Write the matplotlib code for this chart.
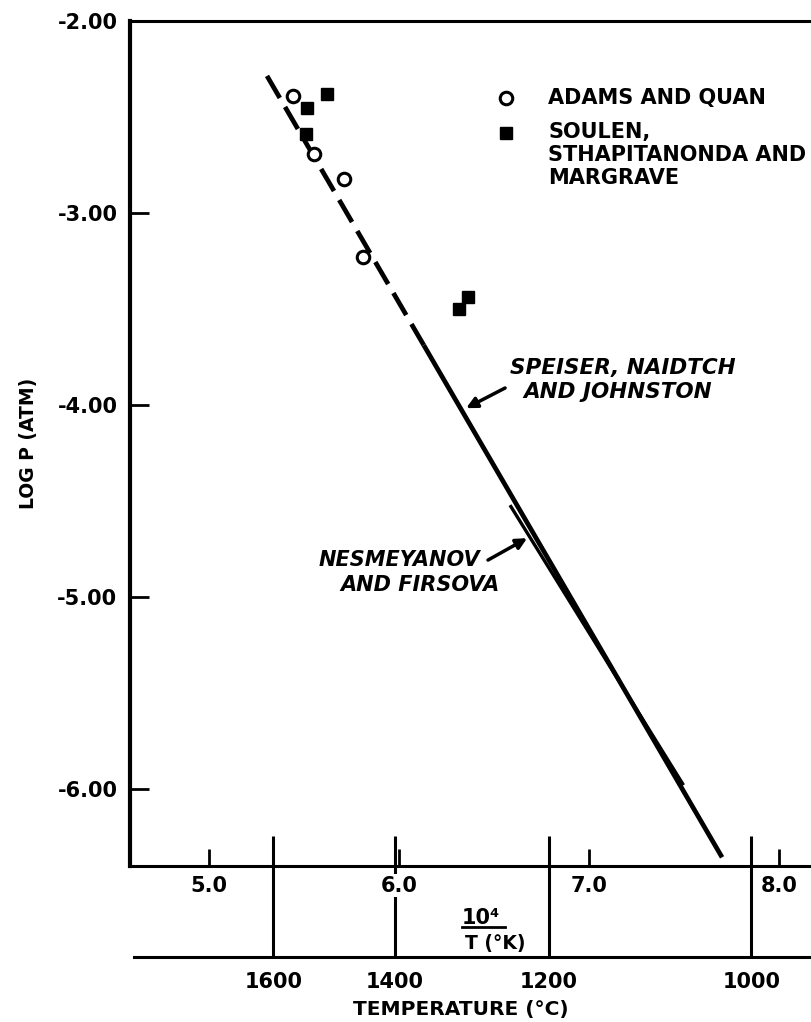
import matplotlib.pyplot as plt
import matplotlib.transforms as mtransforms

plt.rcParams['font.family'] = ['DejaVu Sans']
plt.rcParams['font.weight'] = 'bold'

# Adams and Quan (open circles)
adams_x = [5.440, 5.553, 5.711, 5.812]
adams_y = [-2.391, -2.693, -2.825, -3.231]

# Soulen, Sthapitanonda and Margrave (filled squares)
soulen_x = [5.623, 5.518, 5.511, 6.365, 6.318]
soulen_y = [-2.382, -2.455, -2.589, -3.436, -3.502]

# Speiser, Naidtch and Johnston: dashed extrapolation, then measured range
speiser_x = [5.305, 6.13, 7.700]
speiser_y = [-2.286, -3.688, -6.355]

# Nesmeyanov and Firsova
nesm_x = [6.584, 7.497]
nesm_y = [-4.521, -5.979]

y_ticks = [-2.0, -3.0, -4.0, -5.0, -6.0]
inv_t_ticks = [5.0, 6.0, 7.0, 8.0]
celsius_ticks = [1600, 1400, 1200, 1000]

fig = plt.figure(figsize=(8.11, 10.22), dpi=100)
ax = fig.add_axes([130 / 811, 156 / 1022, 681 / 811, 845 / 1022])
ax.set_xlim(4.584, 8.168)
ax.set_ylim(-6.40, -2.0)

ax.spines['left'].set_linewidth(3.0)
for s in ['top', 'bottom']:
    ax.spines[s].set_linewidth(2.2)
ax.spines['right'].set_visible(False)

ax.set_yticks(y_ticks)
ax.set_yticklabels([f"{v:.2f}" for v in y_ticks], fontsize=15, fontweight='bold')
ax.set_xticks(inv_t_ticks)
ax.set_xticklabels([f"{v:.1f}" for v in inv_t_ticks], fontsize=15, fontweight='bold')
for lab in ax.get_xticklabels():
    lab.set_bbox(dict(facecolor='white', edgecolor='none', pad=1))
ax.tick_params(axis='y', direction='in', length=14, width=2, pad=9)
ax.tick_params(axis='x', direction='in', length=12, width=2, pad=7)

# curves
ax.plot(speiser_x[:2], speiser_y[:2], color='black', lw=3.4,
        linestyle=(0, (5.4, 2.2)))
ax.plot(speiser_x[1:], speiser_y[1:], color='black', lw=3.4,
        solid_capstyle='butt')
ax.plot(nesm_x, nesm_y, color='black', lw=2.4, solid_capstyle='butt')

# data points
ax.plot(adams_x, adams_y, 'o', ms=9, mfc='white', mec='black', mew=2.2,
        zorder=5)
ax.plot(soulen_x, soulen_y, 's', ms=9, color='black', zorder=5)

# legend drawn by hand
ax.plot([6.563], [-2.401], 'o', ms=9, mfc='white', mec='black', mew=2.2)
ax.plot([6.563], [-2.583], 's', ms=9, color='black')
ax.text(6.784, -2.401, "ADAMS AND QUAN", fontsize=15, va='center')
ax.text(6.784, -2.583, "SOULEN,\nSTHAPITANONDA AND\nMARGRAVE", fontsize=15,
        va='top', linespacing=1.2,
        transform=ax.transData + mtransforms.ScaledTranslation(0, 11 / 100, fig.dpi_scale_trans))

# curve labels
ax.text(6.584, -3.807, "SPEISER, NAIDTCH", fontsize=15.5, style='italic',
        va='center')
ax.text(6.653, -3.932, "AND JOHNSTON", fontsize=15.5, style='italic',
        va='center')
ax.annotate("", xy=(6.353, -4.016), xytext=(6.558, -3.911),
            arrowprops=dict(arrowstyle='-|>', lw=2.5, color='black',
                            mutation_scale=16, shrinkA=0, shrinkB=0))
ax.text(6.426, -4.807, "NESMEYANOV", fontsize=15, style='italic',
        va='center', ha='right')
ax.text(6.531, -4.937, "AND FIRSOVA", fontsize=15, style='italic',
        va='center', ha='right')
ax.annotate("", xy=(6.674, -4.693), xytext=(6.468, -4.807),
            arrowprops=dict(arrowstyle='-|>', lw=2.5, color='black',
                            mutation_scale=16, shrinkA=0, shrinkB=0))

# temperature scale in degrees C below the 1/T axis
trans = ax.get_xaxis_transform()
celsius_pos = [1e4 / (c + 273.15) for c in celsius_ticks]
ax.vlines(celsius_pos, -0.1077, 0.0355, transform=trans, color='black',
          lw=2.2, clip_on=False, zorder=1)
ax.plot([0.006, 1.0], [-0.1077, -0.1077], transform=ax.transAxes,
        color='black', lw=2.2, clip_on=False)
for pos, c in zip(celsius_pos, celsius_ticks):
    ax.text(pos, -0.137, str(c), transform=trans, ha='center', va='center',
            fontsize=15)

# 10^4 / T label
ax.text(6.33, -0.061, "10\u2074", transform=trans, ha='left', va='center',
        fontsize=15)
ax.plot([6.33, 6.56], [-0.0725, -0.0725], transform=trans, color='black',
        lw=2, clip_on=False)
ax.text(6.345, -0.092, "T (\u00b0K)", transform=trans, ha='left',
        va='center', fontsize=13.5)

ax.text(6.325, -0.170, "TEMPERATURE (\u00b0C)", transform=trans, ha='center',
        va='center', fontsize=14.5)
ax.set_ylabel("LOG P (ATM)", fontsize=13.5, fontweight='bold', labelpad=14)

fig.savefig("out.png", dpi=100)
